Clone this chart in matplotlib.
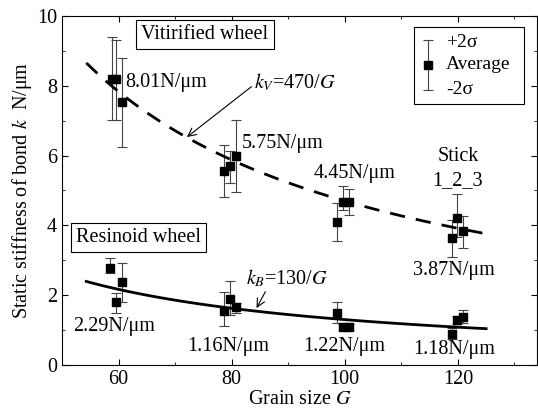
import numpy as np
import matplotlib
matplotlib.use('Agg')
import matplotlib.pyplot as plt
from matplotlib.ticker import MultipleLocator
from matplotlib.patches import Rectangle

plt.rcParams['font.family'] = ['Liberation Serif', 'DejaVu Serif']
plt.rcParams['mathtext.fontset'] = 'stix'

# vitrified wheel: grain size (jittered), mean, +2sigma, -2sigma
vit_g = [58.8, 59.6, 60.6, 78.6, 79.7, 80.7, 98.7, 99.7, 100.8, 119.0, 119.9, 120.9]
vit_mean = [8.19, 8.19, 7.54, 5.56, 5.70, 5.99, 4.10, 4.67, 4.67, 3.64, 4.21, 3.84]
vit_hi = [9.40, 9.31, 8.80, 6.30, 6.13, 7.02, 4.65, 5.13, 5.04, 4.15, 4.90, 4.27]
vit_lo = [7.02, 7.02, 6.25, 4.81, 5.21, 4.96, 3.55, 4.44, 4.30, 3.09, 3.67, 3.35]

# resinoid wheel
res_g = [58.5, 59.6, 60.6, 78.6, 79.7, 80.7, 98.7, 99.7, 100.8, 119.0, 119.9, 120.9]
res_mean = [2.78, 1.80, 2.38, 1.55, 1.89, 1.66, 1.49, 1.09, 1.09, 0.89, 1.29, 1.38]
res_hi = [3.07, 2.06, 2.92, 2.09, 2.41, 1.78, 1.80, 1.18, 1.18, 1.05, 1.40, 1.58]
res_lo = [2.64, 1.49, 1.80, 1.12, 1.43, 1.49, 1.20, 1.00, 1.00, 0.75, 1.18, 1.20]

fit_g = np.linspace(54.3, 125, 100)

fig = plt.figure(figsize=(5.38, 4.2), dpi=100)
ax = fig.add_axes([0.1152, 0.131, 0.883, 0.831])

def draw(g, m, hi, lo):
    g = np.array(g); m = np.array(m)
    yerr = [m - np.array(lo), np.array(hi) - m]
    ax.errorbar(g, m, yerr=yerr, fmt='s', color='black', ms=5.5,
                ecolor='#444444', elinewidth=0.8, capsize=3.5, capthick=0.8)

draw(vit_g, vit_mean, vit_hi, vit_lo)
draw(res_g, res_mean, res_hi, res_lo)

ax.plot(fit_g, 470 / fit_g, color='black', lw=2, ls=(0, (5.5, 4)))
ax.plot(fit_g, 130 / fit_g, color='black', lw=2)

fs = 14.5
ax.text(61.2, 8.1, '8.01N/μm', fontsize=fs, va='center')
ax.text(81.8, 6.36, '5.75N/μm', fontsize=fs, va='center')
ax.text(94.5, 5.5, '4.45N/μm', fontsize=fs, va='center')
ax.text(119.3, 2.72, '3.87N/μm', fontsize=fs, va='center', ha='center')
ax.text(120, 5.96, 'Stick', fontsize=fs, va='center', ha='center')
ax.text(120, 5.27, '1_2_3', fontsize=fs, va='center', ha='center')
ax.text(52, 1.09, '2.29N/μm', fontsize=fs, va='center')
ax.text(72.1, 0.54, '1.16N/μm', fontsize=fs, va='center')
ax.text(92.6, 0.52, '1.22N/μm', fontsize=fs, va='center')
ax.text(119.3, 0.43, '1.18N/μm', fontsize=fs, va='center', ha='center')

ax.annotate(r'$k_V$=470/$G$', xy=(72.1, 6.53), xytext=(84, 8.1), fontsize=fs,
            va='center', arrowprops=dict(arrowstyle='->', color='black', lw=0.8,
                                         shrinkA=0, shrinkB=0, relpos=(0, 0.4)))
ax.annotate(r'$k_B$=130/$G$', xy=(84.4, 1.63), xytext=(82.6, 2.49), fontsize=fs,
            va='center', arrowprops=dict(arrowstyle='->', color='black', lw=0.8,
                                         shrinkA=0, shrinkB=0, relpos=(0.25, 0)))

box = dict(boxstyle='square,pad=0.25', fc='white', ec='black', lw=0.8)
ax.text(75.3, 9.48, 'Vitirified wheel', fontsize=fs, ha='center', va='center', bbox=box)
ax.text(63.6, 3.64, 'Resinoid wheel', fontsize=fs, ha='center', va='center', bbox=box)

# legend drawn by hand
ax.add_patch(Rectangle((0.741, 0.748), 0.232, 0.220, transform=ax.transAxes,
                       fc='white', ec='black', lw=0.8, zorder=5))
ax.errorbar([0.771], [0.860], yerr=[[0.072], [0.071]], fmt='s', color='black', ms=5.5,
            ecolor='#444444', elinewidth=0.8, capsize=3.5, capthick=0.8,
            transform=ax.transAxes, zorder=6)
ax.text(0.808, 0.923, '+2σ', transform=ax.transAxes, fontsize=14, va='center', zorder=6)
ax.text(0.808, 0.860, 'Average', transform=ax.transAxes, fontsize=14, va='center', zorder=6)
ax.text(0.808, 0.790, '-2σ', transform=ax.transAxes, fontsize=14, va='center', zorder=6)

ax.set_xlim(50, 134)
ax.set_ylim(0, 10)
ax.xaxis.set_major_locator(MultipleLocator(20))
ax.xaxis.set_minor_locator(MultipleLocator(10))
ax.yaxis.set_major_locator(MultipleLocator(2))
ax.yaxis.set_minor_locator(MultipleLocator(1))
ax.tick_params(which='both', direction='in', top=True, right=True, labelsize=14.5)
ax.tick_params(which='major', length=4)
ax.tick_params(which='minor', length=2.5)
ax.set_xlabel('Grain size $G$', fontsize=14.5, labelpad=1)
ax.set_ylabel('Static stiffness of bond $k$  N/μm', fontsize=14.5, labelpad=2)

fig.savefig('out.png', dpi=100)
